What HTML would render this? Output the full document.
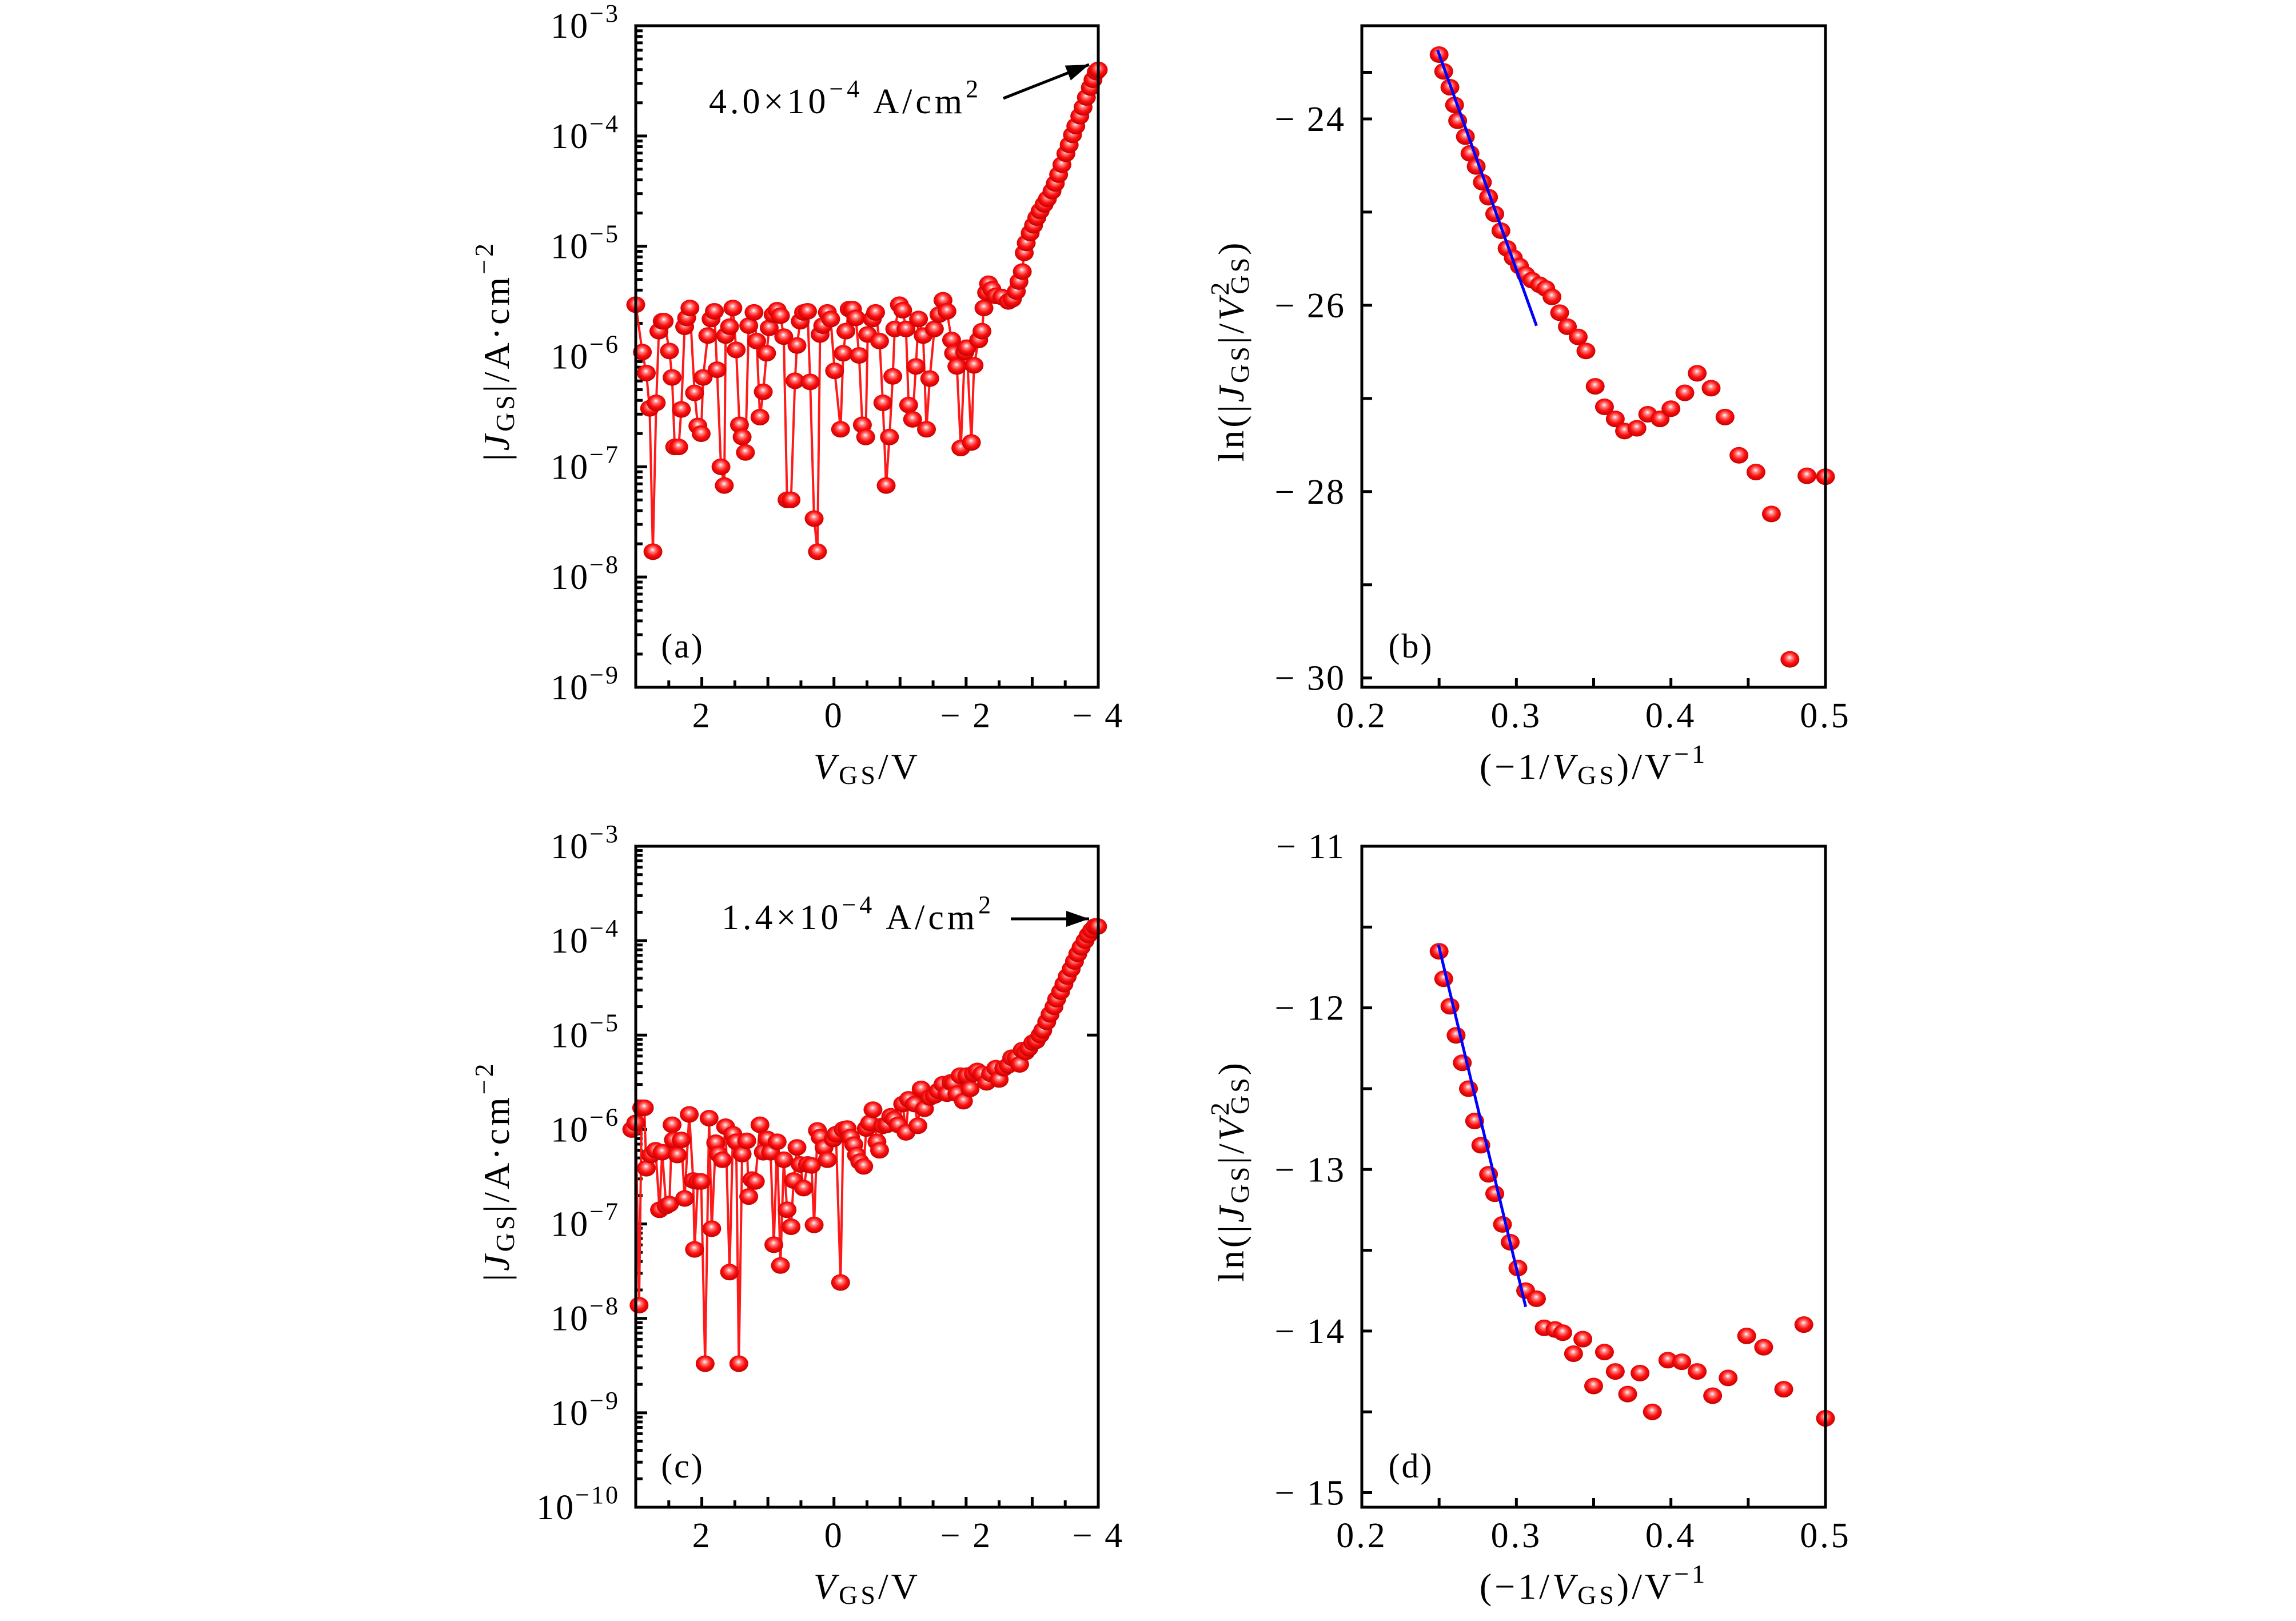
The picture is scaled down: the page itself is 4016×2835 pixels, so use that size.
<!DOCTYPE html>
<html><head><meta charset="utf-8">
<style>
html,body{margin:0;padding:0;background:#fff;}
svg{display:block;}
text{font-family:"Liberation Serif",serif;fill:#000;}
</style></head>
<body>
<svg id="fig" xmlns="http://www.w3.org/2000/svg" width="4016" height="2835" viewBox="0 0 4016 2835">
<defs>
<radialGradient id="ball" cx="50%" cy="45%" r="55%" fx="48%" fy="38%">
<stop offset="0" stop-color="#fff"/>
<stop offset="0.25" stop-color="#ff8080"/>
<stop offset="0.6" stop-color="#ff1010"/>
<stop offset="1" stop-color="#c00000"/>
</radialGradient>
</defs>
<g id="layer"></g>
</svg>
<script>
// ---- Panel (a) data: V_GS (V) and log10|J_GS| (A/cm^2)
const aV=[3.00,2.90,2.84,2.79,2.74,2.69,2.65,2.60,2.57,2.49,2.45,2.41,2.35,2.31,2.26,2.23,2.18,2.11,2.06,2.01,1.98,1.91,1.86,1.81,1.77,1.71,1.66,1.64,1.58,1.53,1.48,1.43,1.39,1.34,1.29,1.21,1.17,1.12,1.07,1.02,0.98,0.92,0.86,0.81,0.76,0.71,0.65,0.59,0.56,0.51,0.46,0.40,0.36,0.30,0.25,0.21,0.17,0.10,0.05,-0.01,-0.10,-0.14,-0.18,-0.23,-0.28,-0.33,-0.38,-0.43,-0.48,-0.51,-0.58,-0.63,-0.69,-0.74,-0.79,-0.84,-0.89,-0.92,-0.99,-1.04,-1.09,-1.13,-1.19,-1.24,-1.28,-1.35,-1.40,-1.45,-1.52,-1.59,-1.65,-1.71,-1.78,-1.81,-1.86,-1.92,-1.98,-2.01,-2.08,-2.12,-2.19,-2.24,-2.27,-2.31,-2.34,-2.39,-2.45,-2.54,-2.64,-2.70,-2.76,-2.80,-2.85,-2.88,-2.91,-2.97,-3.02,-3.07,-3.12,-3.18,-3.23,-3.30,-3.35,-3.40,-3.45,-3.51,-3.56,-3.61,-3.66,-3.72,-3.77,-3.82,-3.88,-3.92,-3.97,-4.00];
const aLogJ=[-5.53,-5.96,-6.15,-6.47,-7.77,-6.42,-5.77,-5.68,-5.68,-5.95,-6.19,-6.82,-6.82,-6.48,-5.73,-5.65,-5.56,-6.33,-6.63,-6.70,-6.19,-5.81,-5.66,-5.59,-6.12,-7.00,-7.17,-5.81,-5.73,-5.56,-5.94,-6.62,-6.73,-6.87,-5.72,-5.60,-5.86,-6.55,-6.32,-5.97,-5.74,-5.62,-5.58,-5.63,-5.82,-7.30,-7.30,-6.22,-5.90,-5.68,-5.60,-5.59,-6.23,-7.47,-7.77,-5.80,-5.72,-5.60,-5.66,-6.13,-6.66,-5.97,-5.77,-5.57,-5.57,-5.65,-5.99,-6.62,-6.73,-5.80,-5.66,-5.60,-5.86,-6.42,-7.17,-6.73,-6.18,-5.75,-5.53,-5.58,-5.75,-6.44,-6.57,-6.09,-5.66,-5.81,-6.66,-6.20,-5.75,-5.62,-5.49,-5.59,-5.85,-5.97,-6.09,-6.83,-5.96,-5.92,-6.78,-6.08,-5.85,-5.77,-5.56,-5.42,-5.34,-5.39,-5.45,-5.46,-5.50,-5.48,-5.41,-5.32,-5.23,-5.06,-4.97,-4.88,-4.81,-4.74,-4.68,-4.62,-4.57,-4.50,-4.43,-4.35,-4.26,-4.16,-4.08,-3.99,-3.91,-3.82,-3.74,-3.65,-3.56,-3.49,-3.42,-3.40];
// ---- Panel (c) data
const cV=[3.06,3.00,2.95,2.91,2.87,2.84,2.77,2.70,2.64,2.60,2.54,2.49,2.45,2.43,2.37,2.31,2.26,2.19,2.13,2.11,2.06,2.01,1.95,1.89,1.85,1.79,1.75,1.69,1.64,1.58,1.53,1.48,1.44,1.39,1.32,1.29,1.24,1.19,1.12,1.07,1.01,0.96,0.91,0.86,0.81,0.76,0.71,0.65,0.61,0.56,0.51,0.46,0.40,0.34,0.30,0.25,0.21,0.15,0.10,0.01,-0.03,-0.10,-0.14,-0.20,-0.25,-0.30,-0.34,-0.39,-0.45,-0.49,-0.54,-0.59,-0.65,-0.69,-0.74,-0.80,-0.86,-0.91,-0.97,-1.04,-1.09,-1.13,-1.22,-1.27,-1.32,-1.37,-1.45,-1.52,-1.58,-1.65,-1.71,-1.77,-1.81,-1.86,-1.91,-1.96,-2.01,-2.06,-2.11,-2.17,-2.24,-2.31,-2.37,-2.45,-2.50,-2.57,-2.64,-2.69,-2.76,-2.81,-2.85,-2.90,-2.95,-3.01,-3.06,-3.12,-3.16,-3.22,-3.27,-3.33,-3.37,-3.43,-3.48,-3.53,-3.59,-3.64,-3.69,-3.74,-3.80,-3.85,-3.90,-3.95,-3.99];
const cLogJ=[-6.00,-5.93,-7.86,-5.77,-5.77,-6.41,-6.27,-6.22,-6.85,-6.24,-6.81,-6.79,-5.95,-6.11,-6.27,-6.11,-6.73,-5.84,-6.54,-7.27,-6.55,-6.55,-8.48,-5.88,-7.05,-6.14,-6.26,-6.32,-5.97,-7.51,-6.05,-6.13,-8.48,-6.26,-6.12,-6.71,-6.53,-6.55,-5.95,-6.24,-6.10,-6.24,-7.22,-6.13,-7.44,-6.32,-6.85,-7.03,-6.54,-6.19,-6.37,-6.62,-6.37,-6.38,-7.01,-6.01,-6.08,-6.19,-6.32,-6.10,-6.05,-7.62,-6.00,-5.99,-6.08,-6.16,-6.27,-6.34,-6.39,-5.99,-5.93,-5.79,-6.13,-6.22,-5.96,-5.95,-5.86,-5.89,-5.95,-5.73,-6.03,-5.68,-5.73,-5.96,-5.57,-5.78,-5.66,-5.64,-5.59,-5.52,-5.62,-5.50,-5.51,-5.62,-5.43,-5.70,-5.43,-5.57,-5.41,-5.38,-5.41,-5.50,-5.41,-5.35,-5.47,-5.35,-5.32,-5.24,-5.24,-5.31,-5.16,-5.18,-5.14,-5.08,-5.06,-5.00,-4.95,-4.86,-4.78,-4.70,-4.62,-4.54,-4.46,-4.38,-4.30,-4.22,-4.14,-4.07,-4.00,-3.94,-3.89,-3.85,-3.85];
// ---- Panel (b) data: -1/V_GS and ln(|J|/V^2)
const bX=[0.250,0.253,0.257,0.260,0.262,0.267,0.270,0.274,0.278,0.282,0.286,0.290,0.294,0.298,0.302,0.306,0.310,0.315,0.319,0.323,0.328,0.333,0.340,0.345,0.351,0.357,0.364,0.370,0.378,0.385,0.393,0.400,0.409,0.417,0.426,0.435,0.444,0.455,0.465,0.477,0.488,0.500];
const bY=[-23.31,-23.49,-23.66,-23.85,-24.02,-24.19,-24.37,-24.51,-24.68,-24.84,-25.02,-25.20,-25.39,-25.49,-25.58,-25.67,-25.73,-25.78,-25.82,-25.91,-26.08,-26.23,-26.34,-26.49,-26.87,-27.09,-27.22,-27.35,-27.32,-27.17,-27.22,-27.11,-26.94,-26.73,-26.89,-27.20,-27.61,-27.79,-28.24,-29.80,-27.83,-27.84];
const bFitX=[0.249,0.313];
const bFitY=[-23.26,-26.22];
// ---- Panel (d) data
const dX=[0.250,0.253,0.257,0.261,0.265,0.269,0.273,0.277,0.282,0.286,0.291,0.296,0.301,0.306,0.313,0.318,0.325,0.330,0.337,0.343,0.350,0.357,0.364,0.372,0.380,0.388,0.398,0.407,0.417,0.427,0.437,0.449,0.460,0.473,0.486,0.500];
const dY=[-11.65,-11.82,-11.99,-12.17,-12.34,-12.50,-12.70,-12.85,-13.03,-13.15,-13.34,-13.45,-13.61,-13.75,-13.80,-13.98,-13.99,-14.01,-14.14,-14.05,-14.34,-14.13,-14.25,-14.39,-14.26,-14.50,-14.18,-14.19,-14.25,-14.40,-14.29,-14.03,-14.10,-14.36,-13.96,-14.54];
const dFitX=[0.2496,0.306];
const dFitY=[-11.61,-13.85];
const vTicks=[2,0,-2,-4];
const uTicks=[0.2,0.3,0.4,0.5];

const NS="http://www.w3.org/2000/svg";
const layer=document.getElementById('layer');
function el(tag,attrs,parent){const e=document.createElementNS(NS,tag);for(const k in attrs)e.setAttribute(k,attrs[k]);(parent||layer).appendChild(e);return e;}

const L1=1112,R1=1921,L2=2382,R2=3193,T1=45,B1=1202,T2=1480,B2=2636;
const xV=v=>L1+(3-v)/7*(R1-L1);
const yA=l=>T1+(-3-l)/6*(B1-T1);
const yC=l=>T2+(-3-l)/7*(B2-T2);
const xU=u=>L2+(u-0.2)/0.3*(R2-L2);
const yB=v=>T1+(-23-v)/7.1*(B1-T1);
const yD=v=>T2+(-11-v)/4.09*(B2-T2);

function frame(x0,y0,x1,y1,name){
  const r=el('rect',{x:x0,y:y0,width:x1-x0,height:y1-y0,fill:'none',stroke:'#000','stroke-width':5});
  
  
}
function tickV(x,y,len,g){el('line',{x1:x,y1:y,x2:x,y2:y-len,stroke:'#000','stroke-width':5},g);}
function tickH(x,y,len,g){el('line',{x1:x,y1:y,x2:x+len,y2:y,stroke:'#000','stroke-width':5},g);}
function txt(x,y,s,size,anchor,g,ls){const t=el('text',{x:x,y:y,'font-size':size,'text-anchor':anchor||'middle','letter-spacing':ls||0},g);t.textContent=s;return t;}
function powLabel(x,y,exp,g){
  const t=el('text',{x:x,y:y+21,'font-size':62,'text-anchor':'end','letter-spacing':3},g);
  const a=el('tspan',{},t);a.textContent='10';
  const b=el('tspan',{dy:-28,'font-size':44},t);b.textContent='−'+exp;
  return t;
}
function ballSeries(xs,ys,fx,fy,g,name){
  for(let i=0;i<xs.length;i++){
    const c=el('ellipse',{cx:fx(xs[i]),cy:fy(ys[i]),rx:16.5,ry:14.5,fill:'url(#ball)'},g);
    
    
  }
}
function lineSeries(xs,ys,fx,fy,g,color,w,name){
  let d='';for(let i=0;i<xs.length;i++)d+=(i?'L':'M')+fx(xs[i]).toFixed(1)+','+fy(ys[i]).toFixed(1);
  const p=el('path',{d:d,fill:'none',stroke:color,'stroke-width':w,'stroke-linejoin':'round'},g);
  
  
}

function logPanel(T,B,yf,dmin,dmax,xs,ys,tag,annot){
  const g=el('g',{});
  
  
  const ax=el('g',{},g);
  
  
  for(let d=dmin;d<=dmax;d++){
    tickH(L1,yf(d),20,ax);
    powLabel(L1-28,yf(d),-d,ax);
    if(d<dmax)for(let k=2;k<=9;k++)tickH(L1,yf(d+Math.log10(k)),12,ax);
  }
  const bx=el('g',{},g);
  
  
  for(let v=3;v>=-4;v-=0.5){if(v<3&&v>-4)tickV(xV(v),B,Number.isInteger(v)?18:12,bx);}
  vTicks.forEach(v=>txt(xV(v),B+70,v<0?'− '+(-v):String(v),62,'middle',bx,3));
  lineSeries(xs,ys,xV,yf,g,'#ff1a1a',4,'jgs-line-'+tag);
  ballSeries(xs,ys,xV,yf,g,'jgs-point-'+tag);
  frame(L1,T,R1,B,'plot-frame-'+tag);
  const pl=txt(L1+82,B-52,'('+tag+')',60,'middle',g,3);
  
  
  const xt=el('text',{x:(L1+R1)/2,y:B+160,'font-size':64,'text-anchor':'middle','letter-spacing':5},g);
  
  
  let s=el('tspan',{'font-style':'italic'},xt);s.textContent='V';
  s=el('tspan',{'font-size':46,dy:9},xt);s.textContent='GS';
  s=el('tspan',{dy:-9},xt);s.textContent='/V';
  const cy=(T+B)/2-10;
  const yt=el('text',{x:0,y:0,'font-size':64,'text-anchor':'middle','letter-spacing':5,transform:'translate(890,'+cy+') rotate(-90)'},g);
  
  
  s=el('tspan',{},yt);s.textContent='|';
  s=el('tspan',{'font-style':'italic'},yt);s.textContent='J';
  s=el('tspan',{'font-size':46,dy:9},yt);s.textContent='GS';
  s=el('tspan',{dy:-9},yt);s.textContent='|/A·cm';
  s=el('tspan',{'font-size':46,dy:-28},yt);s.textContent='−2';
  const an=el('text',{x:annot.x,y:annot.y,'font-size':62,'text-anchor':'start','letter-spacing':6},g);
  
  
  s=el('tspan',{},an);s.textContent=annot.val+'×10';
  s=el('tspan',{'font-size':44,dy:-28},an);s.textContent='−4';
  s=el('tspan',{dy:28},an);s.textContent=' A/cm';
  s=el('tspan',{'font-size':44,dy:-28},an);s.textContent='2';
  const ar=el('line',{x1:annot.ax1,y1:annot.ay1,x2:annot.ax2,y2:annot.ay2,stroke:'#000','stroke-width':5},g);
  
  
  el('path',{d:'M0,0 L-40,-14 L-40,14 z',fill:'#000',transform:'translate('+annot.ax2+','+annot.ay2+') rotate('+(Math.atan2(annot.ay2-annot.ay1,annot.ax2-annot.ax1)*180/Math.PI)+')'},g);
  return g;
}
logPanel(T1,B1,yA,-9,-3,aV,aLogJ,'a',{x:1240,y:198,val:'4.0',ax1:1755,ay1:172,ax2:1905,ay2:113});
const gc=logPanel(T2,B2,yC,-10,-3,cV,cLogJ,'c',{x:1262,y:1625,val:'1.4',ax1:1768,ay1:1607,ax2:1905,ay2:1607});
el('line',{x1:R1,y1:yC(-5),x2:R1-20,y2:yC(-5),stroke:'#000','stroke-width':5},gc);

function linPanel(T,B,yf,majors,minors,xs,ys,fx,fy,tag){
  const g=el('g',{});
  
  
  const ax=el('g',{},g);
  
  
  majors.forEach(v=>{tickH(L2,yf(v),18,ax);txt(L2-28,yf(v)+21,'− '+(-v),62,'end',ax,3);});
  minors.forEach(v=>tickH(L2,yf(v),18,ax));
  const bx=el('g',{},g);
  
  
  for(let u=0.25;u<0.5;u+=0.05)tickV(xU(u),B,16,bx);
  uTicks.forEach(u=>txt(xU(u),B+70,u.toFixed(1),62,'middle',bx,4));
  ballSeries(xs,ys,xU,yf,g,'ln-point-'+tag);
  lineSeries(fx,fy,xU,yf,g,'#0000ff',5,'fn-fit-line-'+tag);
  frame(L2,T,R2,B,'plot-frame-'+tag);
  const pl=txt(L2+86,B-52,'('+tag+')',60,'middle',g,3);
  
  
  const xt=el('text',{x:(L2+R2)/2,y:B+160,'font-size':64,'text-anchor':'middle','letter-spacing':5},g);
  
  
  let s=el('tspan',{},xt);s.textContent='(−1/';
  s=el('tspan',{'font-style':'italic'},xt);s.textContent='V';
  s=el('tspan',{'font-size':46,dy:9},xt);s.textContent='GS';
  s=el('tspan',{dy:-9},xt);s.textContent=')/V';
  s=el('tspan',{'font-size':46,dy:-28},xt);s.textContent='−1';
  const cy=(T+B)/2-10;
  const yt=el('text',{x:0,y:0,'font-size':64,'text-anchor':'middle','letter-spacing':5,transform:'translate(2175,'+cy+') rotate(-90)'},g);
  
  
  s=el('tspan',{},yt);s.textContent='ln(|';
  s=el('tspan',{'font-style':'italic'},yt);s.textContent='J';
  s=el('tspan',{'font-size':46,dy:9},yt);s.textContent='GS';
  s=el('tspan',{dy:-9},yt);s.textContent='|/';
  s=el('tspan',{'font-style':'italic'},yt);s.textContent='V';
  s=el('tspan',{'font-size':46,dy:-26},yt);s.textContent='2';
  s=el('tspan',{'font-size':46,dx:-26,dy:35},yt);s.textContent='GS';
  s=el('tspan',{dy:-9},yt);s.textContent=')';
}
linPanel(T1,B1,yB,[-24,-26,-28,-30],[-23.5,-25,-27,-29],bX,bY,bFitX,bFitY,'b');
linPanel(T2,B2,yD,[-11,-12,-13,-14,-15],[-11.5,-12.5,-13.5,-14.5],dX,dY,dFitX,dFitY,'d');
</script>
</body></html>
